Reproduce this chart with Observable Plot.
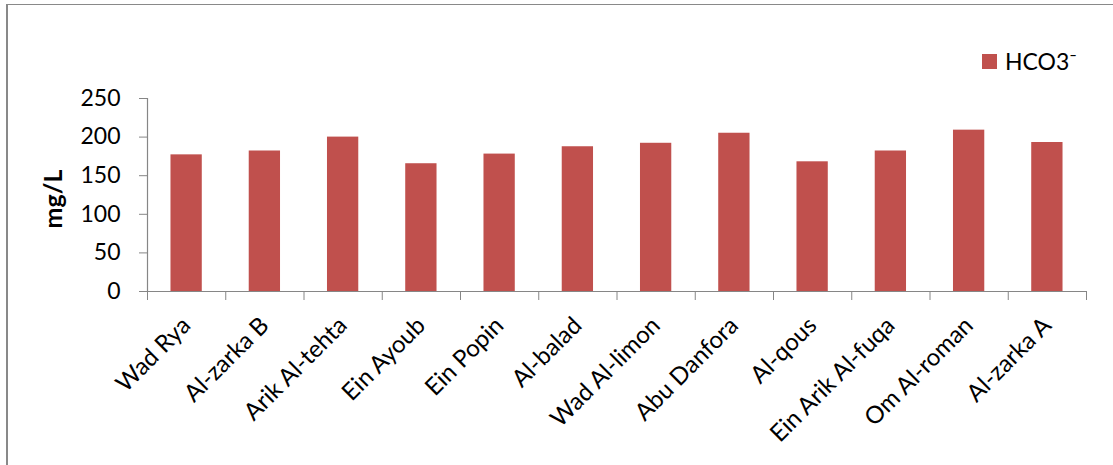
<!DOCTYPE html>
<html><head><meta charset="utf-8">
<script src="https://cdn.jsdelivr.net/npm/d3@7"></script>
<script src="https://cdn.jsdelivr.net/npm/@observablehq/plot@0.6"></script>
<style>
body{margin:0;background:#fff;}
#wrap{position:relative;width:1113px;height:465px;overflow:hidden;font-family:Lato, sans-serif;}
#border{position:absolute;left:6px;top:4px;width:1300px;height:700px;border-left:2px solid #898989;border-top:1.5px solid #898989;}
#chart{position:absolute;left:0;top:0;}
#legend{position:absolute;left:982px;top:47px;font-size:23px;display:flex;align-items:center;color:#000;}
#legend .sw{display:inline-block;width:15px;height:15px;background:#C0504D;margin-right:8px;}
</style></head><body>
<div id="wrap"><div id="border"></div><div id="chart"></div><div id="legend"><span class="sw"></span><span id="legtext"></span></div></div>
<script>
const sites = ["Wad Rya","Al-zarka B","Arik Al-tehta","Ein Ayoub","Ein Popin","Al-balad","Wad Al-limon","Abu Danfora","Al-qous","Ein Arik Al-fuqa","Om Al-roman","Al-zarka A"];
const hco3 = [177,182,200,165.5,178,187.5,192,205,168,182,209,193];
const yTicks = [0,50,100,150,200,250];
const seriesName = "HCO3\u207B";
const yTitle = "mg/L";
const barColor = "#C0504D";
const axisColor = "#868686";

const data = sites.map((s,i)=>({site:s, i, value:hco3[i]}));
const n = sites.length;
document.getElementById("legtext").textContent = seriesName;

const plot = Plot.plot({
  width:1113, height:465, marginLeft:147, marginRight:27, marginTop:98, marginBottom:174,
  style:{fontFamily:"Lato, sans-serif", fontSize:"23px", background:"transparent", overflow:"visible", color:"#000"},
  x:{type:"linear", domain:[0,n], label:null},
  y:{domain:[0,250], label:null},
  marks:[
    Plot.rectY(data,{x1:d=>d.i+0.3, x2:d=>d.i+0.7, y:"value", fill:barColor}),
    Plot.ruleY([0],{stroke:axisColor, strokeWidth:1.2}),
    Plot.ruleX([0],{stroke:axisColor, strokeWidth:1.2}),
    Plot.axisX(d3.range(n+1),{tickSize:9, tickFormat:()=>"", stroke:axisColor, label:null}),
    Plot.axisX(d3.range(n).map(i=>i+0.5),{tickSize:0, tickRotate:-45, tickPadding:30, fontSize:24, tickFormat:d=>sites[Math.floor(d)], label:null, fill:"#000"}),
    Plot.axisY(yTicks,{tickSize:8, tickPadding:19, stroke:axisColor, fill:"#000", label:null}),
    Plot.text([yTitle],{frameAnchor:"left", textAnchor:"middle", lineAnchor:"middle", rotate:-90, dx:-94, dy:4, fontWeight:"bold", fontSize:25, fill:"#000"})
  ]
});
document.getElementById("chart").appendChild(plot);
</script>
</body></html>
